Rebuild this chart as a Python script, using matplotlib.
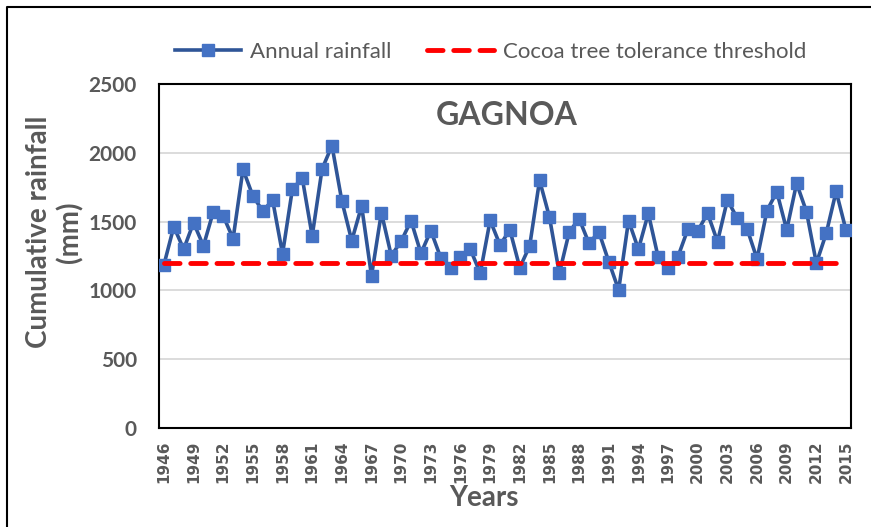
import matplotlib.pyplot as plt
from matplotlib.lines import Line2D
import numpy as np

# annual rainfall at Gagnoa, 1946-2015 (mm)
years = list(range(1946, 2016))
rainfall = [1185, 1463, 1299, 1492, 1323, 1572, 1541, 1376, 1880, 1686,
            1577, 1655, 1265, 1737, 1815, 1395, 1882, 2052, 1650, 1361,
            1613, 1105, 1565, 1252, 1357, 1507, 1269, 1434, 1238, 1163,
            1245, 1299, 1124, 1509, 1330, 1439, 1165, 1323, 1800, 1533,
            1124, 1424, 1521, 1342, 1424, 1209, 1003, 1507, 1299, 1560,
            1240, 1160, 1245, 1444, 1432, 1560, 1354, 1657, 1524, 1446,
            1228, 1579, 1717, 1439, 1778, 1572, 1197, 1415, 1720, 1437]
threshold = 1200
tick_years = years[::3]

gray = '#595959'

fig = plt.figure(figsize=(8.71, 5.27), dpi=100)
ax = fig.add_axes([0.1825, 0.188, 0.7945, 0.6526])

ax.grid(axis='y', color='#d9d9d9', linewidth=1.3, zorder=0)
ax.set_axisbelow(True)
ax.plot(years, rainfall, color='#2F5597', linewidth=2.6, marker='s',
        markersize=8, markerfacecolor='#4472C4', markeredgecolor='#4472C4',
        label='Annual rainfall', zorder=3)
ax.plot(years, [threshold] * len(years), color='#FF0000', linewidth=3.5,
        linestyle=(0, (3.2, 2.2)), dash_capstyle='round',
        label='Cocoa tree tolerance threshold', zorder=4)

ax.set_xlim(1945.5, 2015.5)
ax.set_ylim(0, 2500)
ax.set_yticks(np.arange(0, 2501, 500))
ax.set_xticks(tick_years)
ax.set_xticklabels([str(y) for y in tick_years], rotation=90,
                   fontsize=11, fontweight='bold', color=gray,
                   family='DejaVu Sans')
for lab in ax.get_yticklabels():
    lab.set_fontfamily('Lato')
    lab.set_fontweight('bold')
    lab.set_fontsize(15)
    lab.set_color(gray)
ax.tick_params(axis='y', length=0, pad=16)
ax.tick_params(axis='x', length=0, pad=9)
for sp in ax.spines.values():
    sp.set_color('black')
    sp.set_linewidth(1.5)

ax.text(0.503, 0.907, 'GAGNOA', transform=ax.transAxes, ha='center',
        va='center', fontsize=23, fontweight='bold', color=gray, family='Lato')

fig.text(0.0625, 0.56, 'Cumulative rainfall\n(mm)', rotation=90, ha='center',
         va='center', fontsize=20, fontweight='bold', color=gray,
         family='Lato', linespacing=1.2)
fig.text(0.556, 0.055, 'Years', ha='center', va='center', fontsize=20,
         fontweight='bold', color=gray, family='Lato')

leg = fig.legend(loc='center', bbox_to_anchor=(0.563, 0.901), ncol=2,
                 frameon=False, prop={'family': 'Lato', 'size': 16},
                 handlelength=3.0, columnspacing=1.6, handletextpad=0.4,
                 markerscale=1.0)
for t in leg.get_texts():
    t.set_color(gray)

# outer chart border
fig.add_artist(Line2D([7 / 871, 7 / 871, 1], [0, 1 - 7 / 527, 1 - 7 / 527],
                      transform=fig.transFigure, color='black', linewidth=1.5))

fig.savefig('out.png', dpi=100)
